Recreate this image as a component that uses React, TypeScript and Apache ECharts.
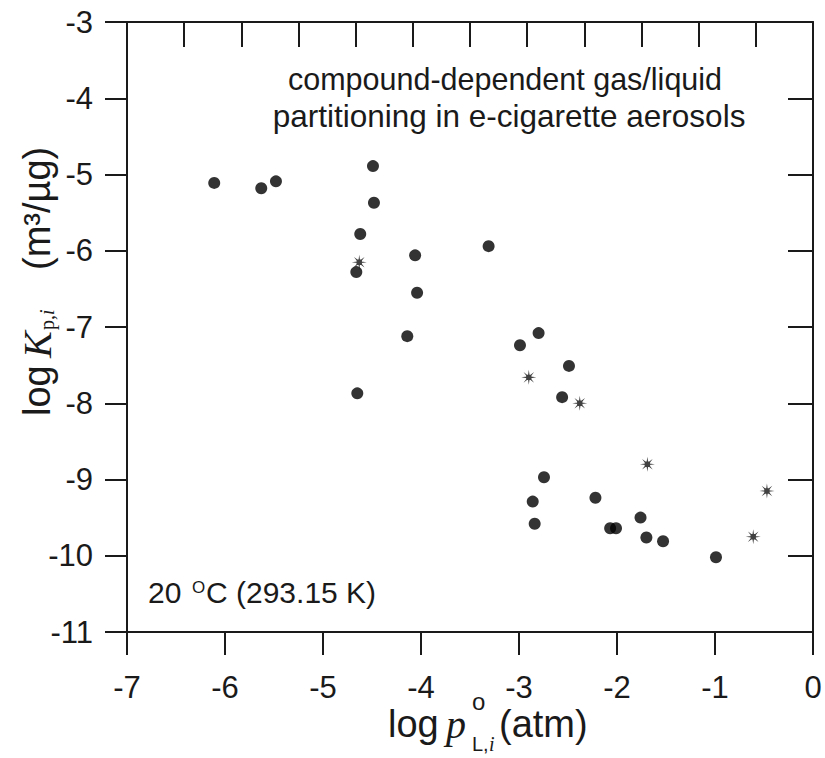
import React, { useEffect, useRef } from "react";
import * as echarts from "echarts";

// ---- data ----
const circleX = [-6.11, -5.63, -5.48, -4.49, -4.48, -4.62, -4.66, -4.06, -4.04, -4.14, -4.65, -3.31, -2.99, -2.8, -2.49, -2.56, -2.745, -2.86, -2.84, -2.22, -2.07, -2.01, -1.76, -1.7, -1.53, -0.99];
const circleY = [-5.11, -5.18, -5.09, -4.89, -5.37, -5.78, -6.28, -6.06, -6.55, -7.12, -7.87, -5.94, -7.24, -7.08, -7.51, -7.92, -8.97, -9.29, -9.58, -9.24, -9.64, -9.64, -9.5, -9.76, -9.81, -10.02];
const starX = [-4.63, -2.9, -2.38, -1.69, -0.47, -0.61];
const starY = [-6.15, -7.66, -8.0, -8.8, -9.15, -9.75];

const X_MIN = -7;
const X_MAX = 0;
const Y_MIN = -11;
const Y_MAX = -3;
const TOP_TICK_COUNT = 12;

const titleLines = ["compound-dependent gas/liquid", "partitioning in e-cigarette aerosols"];
const tempMain = "20";
const tempSup = "O";
const tempRest = "C (293.15 K)";

const SANS = "'Liberation Sans', Arial, sans-serif";
const SERIF = "'Liberation Serif', 'Times New Roman', serif";
const INK = "#1a1a1a";

function starPath(n: number, rOut: number, rIn: number, sq: number) {
  const pts: string[] = [];
  for (let k = 0; k < 2 * n; k++) {
    const a = (Math.PI * k) / n;
    const r = k % 2 === 0 ? rOut : rIn;
    pts.push(`${(r * Math.cos(a)).toFixed(3)},${(r * Math.sin(a)).toFixed(3)}`);
  }
  return (
    "path://M" + pts.join(" L") + " Z " +
    `M${-sq},${-sq} L${sq},${-sq} L${sq},${sq} L${-sq},${sq} Z`
  );
}

export default function App() {
  const ref = useRef<HTMLDivElement>(null);
  useEffect(() => {
    document.body.style.margin = "0";
    if (!ref.current) return;
    const chart = echarts.init(ref.current, null, { renderer: "svg" });
    const circles = circleX.map((x, i) => [x, circleY[i]]);
    const stars = starX.map((x, i) => [x, starY[i]]);
    const axisLine = { show: true, onZero: false, lineStyle: { color: INK, width: 2 } };
    chart.setOption({
      animation: false,
      backgroundColor: "#fff",
      grid: { left: 127, right: 12, top: 22, bottom: 126, containLabel: false },
      xAxis: [
        {
          type: "value", position: "bottom", min: X_MIN, max: X_MAX, interval: 1,
          axisLine,
          axisTick: { show: true, inside: false, length: 23, lineStyle: { color: INK, width: 2 } },
          axisLabel: { show: true, fontSize: 31, color: INK, fontFamily: SANS, margin: 40 },
          splitLine: { show: false },
        },
        {
          type: "value", position: "top", min: 0, max: TOP_TICK_COUNT, interval: 1,
          axisLine,
          axisTick: { show: true, inside: true, length: 25, lineStyle: { color: INK, width: 2 } },
          axisLabel: { show: false },
          splitLine: { show: false },
        },
      ],
      yAxis: [
        {
          type: "value", position: "left", min: Y_MIN, max: Y_MAX, interval: 1,
          axisLine,
          axisTick: { show: true, inside: false, length: 22, lineStyle: { color: INK, width: 2 } },
          axisLabel: { show: true, fontSize: 31, color: INK, fontFamily: SANS, margin: 34 },
          splitLine: { show: false },
        },
        {
          type: "value", position: "right", min: Y_MIN, max: Y_MAX, interval: 1,
          axisLine,
          axisTick: { show: true, inside: true, length: 25, lineStyle: { color: INK, width: 2 } },
          axisLabel: { show: false },
          splitLine: { show: false },
        },
      ],
      series: [
        {
          type: "scatter", xAxisIndex: 0, yAxisIndex: 0, data: circles,
          symbol: "circle", symbolSize: 12, itemStyle: { color: "#000" },
        },
        {
          type: "scatter", xAxisIndex: 0, yAxisIndex: 0, data: stars,
          symbol: starPath(8, 10, 2.8, 3.6), symbolSize: 15, itemStyle: { color: "#111" },
        },
      ],
      graphic: [
        { type: "text", x: 505, y: 79, style: { text: titleLines[0], font: `30.5px ${SANS}`, fill: INK, align: "center", verticalAlign: "middle" } },
        { type: "text", x: 509, y: 116, style: { text: titleLines[1], font: `31.5px ${SANS}`, fill: INK, align: "center", verticalAlign: "middle" } },
        { type: "text", x: 148, y: 592, style: { text: tempMain, font: `30px ${SANS}`, fill: INK, align: "left", verticalAlign: "middle" } },
        { type: "text", x: 192, y: 587, style: { text: tempSup, font: `17px ${SANS}`, fill: INK, align: "left", verticalAlign: "middle" } },
        { type: "text", x: 206, y: 592, style: { text: tempRest, font: `30px ${SANS}`, fill: INK, align: "left", verticalAlign: "middle" } },
        // x-axis title
        { type: "text", x: 388, y: 724, style: { text: "log", font: `38px ${SANS}`, fill: INK, align: "left", verticalAlign: "middle" } },
        { type: "text", x: 446, y: 724, style: { text: "p", font: `italic 40px ${SERIF}`, fill: INK, align: "left", verticalAlign: "middle" } },
        { type: "text", x: 472, y: 701, style: { text: "o", font: `24px ${SANS}`, fill: INK, align: "left", verticalAlign: "middle" } },
        { type: "text", x: 472, y: 744, style: { text: "L,", font: `20px ${SANS}`, fill: INK, align: "left", verticalAlign: "middle" } },
        { type: "text", x: 489, y: 744, style: { text: "i", font: `italic 20px ${SERIF}`, fill: INK, align: "left", verticalAlign: "middle" } },
        { type: "text", x: 499, y: 724, style: { text: "(atm)", font: `38px ${SANS}`, fill: INK, align: "left", verticalAlign: "middle" } },
        // y-axis title (rotated)
        {
          type: "group", x: 37, y: 416, rotation: Math.PI / 2,
          children: [
            { type: "text", x: 0, y: 0, style: { text: "log", font: `38px ${SANS}`, fill: INK, align: "left", verticalAlign: "middle" } },
            { type: "text", x: 58, y: 0, style: { text: "K", font: `italic 40px ${SERIF}`, fill: INK, align: "left", verticalAlign: "middle" } },
            { type: "text", x: 86, y: 10, style: { text: "p,", font: `20px ${SERIF}`, fill: INK, align: "left", verticalAlign: "middle" } },
            { type: "text", x: 101, y: 10, style: { text: "i", font: `italic 20px ${SERIF}`, fill: INK, align: "left", verticalAlign: "middle" } },
            { type: "text", x: 146, y: 0, style: { text: "(m³/µg)", font: `38px ${SANS}`, fill: INK, align: "left", verticalAlign: "middle" } },
          ],
        },
      ],
    });
    return () => chart.dispose();
  }, []);
  return <div ref={ref} style={{ width: 825, height: 758 }} />;
}
